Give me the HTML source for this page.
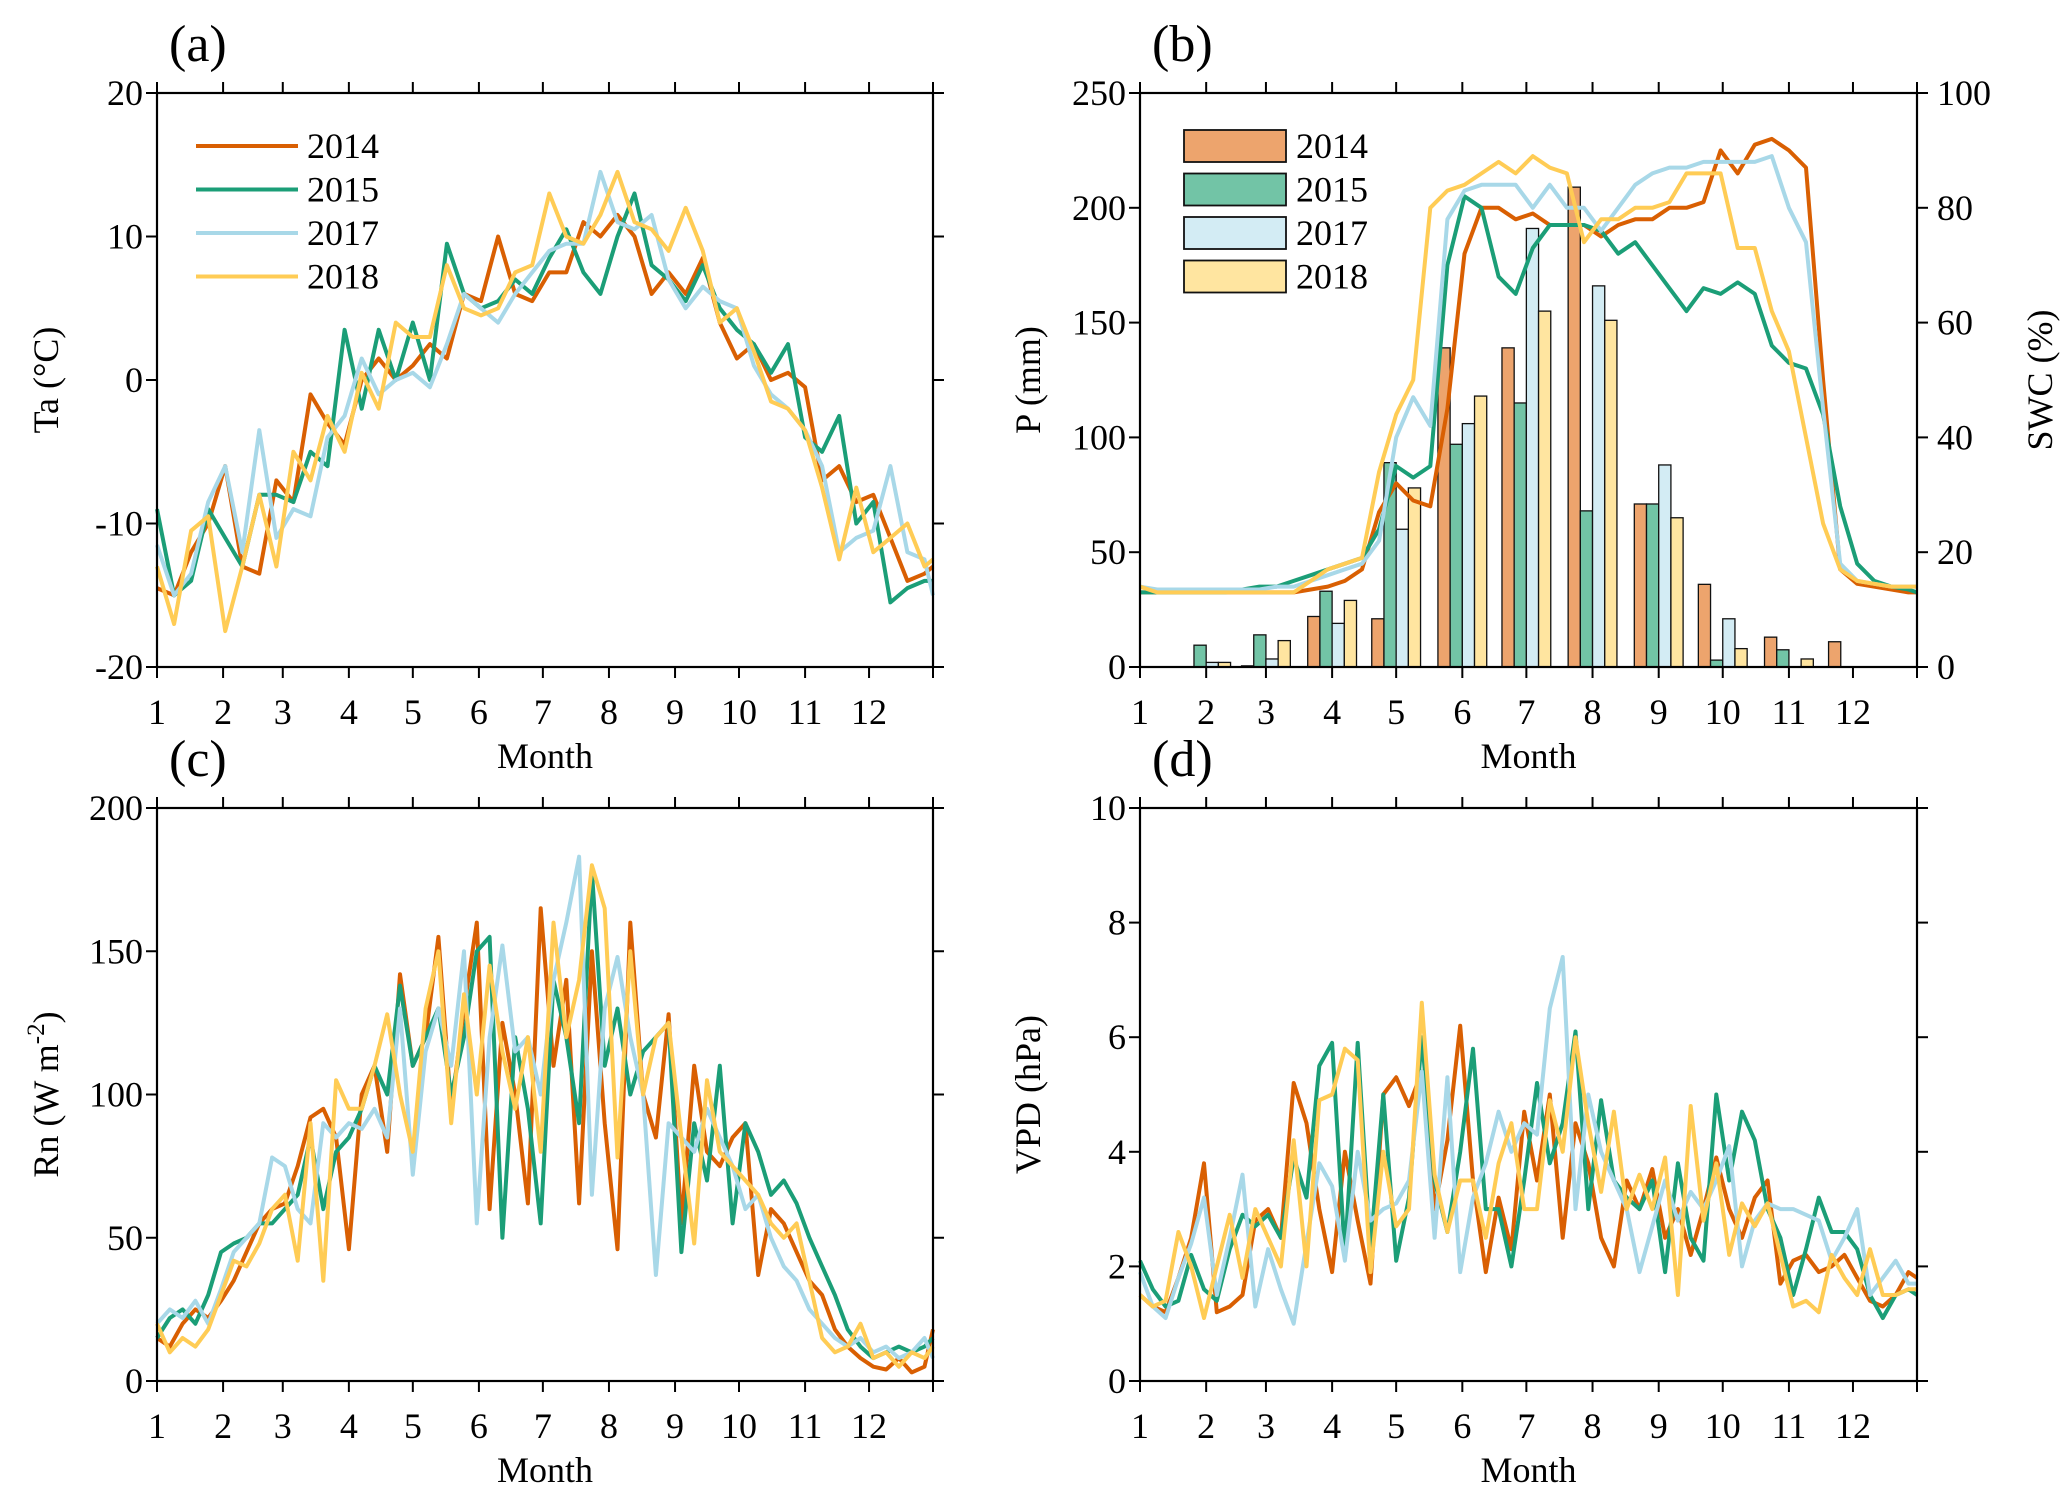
<!DOCTYPE html>
<html><head><meta charset="utf-8">
<style>
html,body{margin:0;padding:0;background:#fff;}
svg{display:block;font-family:"Liberation Serif","Times New Roman",serif;}
</style></head>
<body>
<svg id="fig" width="2067" height="1500" viewBox="0 0 2067 1500" xmlns="http://www.w3.org/2000/svg"></svg>
<script>
// ---- shared data ----
const years = ["2014","2015","2017","2018"];
const lineColors = ["#d95f02","#1b9e77","#a8d8e8","#ffcc55"];
const barColors = ["#eda46d","#72c4a6","#d3ecf4","#ffe5a0"];
const monthTickDays = [1,32,60,91,121,152,182,213,244,274,305,335];
const monthTickLabels = ["1","2","3","4","5","6","7","8","9","10","11","12"];

// panel (a) Ta, days 1,9,...,361,365
const taDays = [1,9,17,25,33,41,49,57,65,73,81,89,97,105,113,121,129,137,145,153,161,169,177,185,193,201,209,217,225,233,241,249,257,265,273,281,289,297,305,313,321,329,337,345,353,361,365];
const ta2014 = [-14.5,-15,-12,-10,-6,-13,-13.5,-7,-8.5,-1,-3,-4.5,0,1.5,0,1,2.5,1.5,6,5.5,10,6,5.5,7.5,7.5,11,10,11.5,10,6,7.5,6,8.5,4,1.5,2.5,0,0.5,-0.5,-7,-6,-8.5,-8,-11,-14,-13.5,-13];
const ta2015 = [-9,-15,-14,-9,-11,-13,-8,-8,-8.5,-5,-6,3.5,-2,3.5,0,4,0,9.5,6,5,5.5,7,6,8.5,10.5,7.5,6,10,13,8,7,5.5,8,5,3.5,2.5,0.5,2.5,-4,-5,-2.5,-10,-8.5,-15.5,-14.5,-14,-14];
const ta2017 = [-11.5,-15,-13.5,-8.5,-6,-12,-3.5,-11,-9,-9.5,-4,-2.5,1.5,-1,0,0.5,-0.5,2.5,6,5,4,6,7.5,9,9.5,9.5,14.5,11,10.5,11.5,7,5,6.5,5.5,5,1,-1,-2,-3.5,-6,-12,-11,-10.5,-6,-12,-12.5,-15];
const ta2018 = [-13,-17,-10.5,-9.5,-17.5,-13,-8,-13,-5,-7,-2.5,-5,0.5,-2,4,3,3,8,5,4.5,5,7.5,8,13,10,9.5,11.5,14.5,11,10.5,9,12,9,4,5,2,-1.5,-2,-3.5,-7.5,-12.5,-7.5,-12,-11,-10,-13,-12.5];
const taTicks = [-20,-10,0,10,20];

// panel (b) precipitation bars (per month) + SWC lines
const pMonths = [1,2,3,4,5,6,7,8,9,10,11,12];
const p2014 = [0,0,0.5,22,21,139,139,209,71,36,13,11];
const p2015 = [0,9.5,14,33,89,97,115,68,71,3,7.5,0];
const p2017 = [0,2,3.5,19,60,106,191,166,88,21,0,0];
const p2018 = [0,2,11.5,29,78,118,155,151,65,8,3.5,0];
const pTicks = [0,50,100,150,200,250];
const swcTicks = [0,20,40,60,80,100];
const swcDays = taDays;
const swc2014 = [13,13,13,13,13,13,13,13,13,13,13.5,14,15,17,27,32,29,28,45,72,80,80,78,79,77,77,77,75,77,78,78,80,80,81,90,86,91,92,90,87,50,17,14.5,14,13.5,13,13];
const swc2015 = [13,13,13,13,13,13,13.5,14,14,15,16,17,18,19,24,35,33,35,70,82,80,68,65,73,77,77,77,76,72,74,70,66,62,66,65,67,65,56,53,52,44,28,18,15,14,13.5,13];
const swc2017 = [14,13.5,13.5,13.5,13.5,13.5,13.5,13.5,14,14,15,16,17,18,22,40,47,42,78,83,84,84,84,80,84,80,80,76,80,84,86,87,87,88,88,88,88,89,80,74,45,18,15,14.5,14,14,14];
const swc2018 = [14,13,13,13,13,13,13,13,13,13,15,17,18,19,34,44,50,80,83,84,86,88,86,89,87,86,74,78,78,80,80,81,86,86,86,73,73,62,55,40,25,17,15,14.5,14,14,14];

// panels (c),(d): days 1,7,...,361,365
const dDays = [1,7,13,19,25,31,37,43,49,55,61,67,73,79,85,91,97,103,109,115,121,127,133,139,145,151,157,163,169,175,181,187,193,199,205,211,217,223,229,235,241,247,253,259,265,271,277,283,289,295,301,307,313,319,325,331,337,343,349,355,361,365];
const rn2014 = [15,12,20,25,22,28,35,45,55,60,62,75,92,95,85,46,100,110,80,142,110,120,155,95,130,160,60,125,100,62,165,110,140,62,150,90,46,160,100,85,128,55,110,80,75,85,90,37,60,55,45,35,30,18,12,8,5,4,8,3,5,18];
const rn2015 = [15,22,25,20,30,45,48,50,55,55,60,65,85,60,80,85,95,110,100,138,110,120,130,100,120,150,155,50,120,95,55,140,120,90,178,110,130,100,115,120,125,45,90,70,110,55,90,80,65,70,62,50,40,30,18,12,8,10,12,10,12,15];
const rn2017 = [20,25,22,28,20,32,45,50,55,78,75,60,55,90,85,90,88,95,85,130,72,115,130,110,150,55,120,152,115,120,100,140,160,183,65,130,148,120,100,37,90,85,80,95,85,75,60,65,50,40,35,25,20,15,12,15,10,12,8,10,15,8];
const rn2018 = [20,10,15,12,18,30,42,40,48,60,65,42,90,35,105,95,95,110,128,100,80,130,150,90,135,100,145,115,95,120,80,160,120,140,180,165,78,150,100,120,125,85,48,105,80,75,70,65,55,50,55,35,15,10,12,20,8,10,5,10,8,12];
const rnTicks = [0,50,100,150,200];
const vpd2014 = [1.5,1.3,1.2,1.8,2.5,3.8,1.2,1.3,1.5,2.8,3.0,2.5,5.2,4.5,3.0,1.9,4.0,2.8,1.7,5.0,5.3,4.8,5.4,3.0,4.2,6.2,3.5,1.9,3.2,2.3,4.7,3.5,5.0,2.5,4.5,3.8,2.5,2.0,3.5,3.0,3.7,2.5,3.0,2.2,3.0,3.9,3.0,2.5,3.2,3.5,1.7,2.1,2.2,1.9,2.0,2.2,1.8,1.4,1.3,1.5,1.9,1.8];
const vpd2015 = [2.1,1.6,1.3,1.4,2.2,1.6,1.4,2.3,2.9,2.7,2.9,2.5,3.9,3.2,5.5,5.9,2.2,5.9,2.3,5.0,2.1,3.2,6.0,3.5,2.6,4.0,5.8,3.0,3.0,2.0,3.5,5.2,3.8,4.5,6.1,3.0,4.9,3.5,3.2,3.0,3.5,1.9,3.8,2.5,2.1,5.0,3.5,4.7,4.2,3.0,2.5,1.5,2.3,3.2,2.6,2.6,2.3,1.5,1.1,1.5,1.6,1.5];
const vpd2017 = [1.9,1.3,1.1,1.8,2.4,3.2,1.5,2.5,3.6,1.3,2.3,1.6,1.0,2.4,3.8,3.4,2.1,4.0,2.8,3.0,3.1,3.5,5.4,2.5,5.3,1.9,3.2,3.8,4.7,4.0,4.5,4.3,6.5,7.4,3.0,5.0,4.0,3.5,3.0,1.9,2.7,3.5,2.8,3.3,3.0,3.5,4.1,2.0,2.8,3.1,3.0,3.0,2.9,2.8,2.1,2.5,3.0,1.5,1.8,2.1,1.7,1.7];
const vpd2018 = [1.5,1.3,1.4,2.6,2.0,1.1,2.0,2.9,1.8,3.0,2.5,2.0,4.2,2.0,4.9,5.0,5.8,5.6,1.9,4.0,2.7,3.0,6.6,3.6,2.6,3.5,3.5,2.5,3.8,4.5,3.0,3.0,4.9,4.0,6.0,4.5,3.3,4.7,3.0,3.6,3.0,3.9,1.5,4.8,2.8,3.8,2.2,3.1,2.7,3.1,2.2,1.3,1.4,1.2,2.2,1.8,1.5,2.3,1.5,1.5,1.6,1.6];
const vpdTicks = [0,2,4,6,8,10];

// ---- drawing ----
const NS = "http://www.w3.org/2000/svg";
const svg = document.getElementById("fig");
function mk(tag, attrs, parent){
  const e = document.createElementNS(NS, tag);
  for (const k in attrs) e.setAttribute(k, attrs[k]);
  (parent||svg).appendChild(e);
  return e;
}
const FS = 36;

function panel(id, box, yMin, yMax, yTicks, yTitle, label, opts){
  const g = mk("g", {});
  
  
  const xs = d => box.x0 + (d-1)/(365-1)*(box.x1-box.x0);
  const ys = v => box.y1 - (v-yMin)/(yMax-yMin)*(box.y1-box.y0);
  const plot = mk("g", {}, g);
  
  
  const tl = 11;
  const xt = mk("g", {}, g);
  
  
  const tickDays = monthTickDays.concat([365]);
  tickDays.forEach(d => {
    const x = xs(d);
    mk("line", {x1:x, x2:x, y1:box.y1, y2:box.y1+tl, stroke:"#000","stroke-width":2}, xt);
    mk("line", {x1:x, x2:x, y1:box.y0, y2:box.y0-tl, stroke:"#000","stroke-width":2}, xt);
  });
  monthTickDays.forEach((d,i) => {
    const t = mk("text", {x:xs(d), y:box.y1+57, "font-size":FS, "text-anchor":"middle"}, xt);
    
    
    t.textContent = monthTickLabels[i];
  });
  const xtitle = mk("text", {x:(box.x0+box.x1)/2, y:box.y1+101, "font-size":FS, "text-anchor":"middle"}, g);
  
  
  xtitle.textContent = "Month";
  const yt = mk("g", {}, g);
  
  
  yTicks.forEach(v => {
    const y = ys(v);
    mk("line", {x1:box.x0-tl, x2:box.x0, y1:y, y2:y, stroke:"#000","stroke-width":2}, yt);
    mk("line", {x1:box.x1, x2:box.x1+tl, y1:y, y2:y, stroke:"#000","stroke-width":2}, yt);
    const t = mk("text", {x:box.x0-14, y:y+12, "font-size":FS, "text-anchor":"end"}, yt);
    
    
    t.textContent = v;
  });
  const yc = (box.y0+box.y1)/2;
  const ytitle = mk("text", {x:0, y:0, "font-size":FS, "text-anchor":"middle", transform:`translate(${opts.ytx},${yc}) rotate(-90)`}, g);
  
  
  ytitle.innerHTML = yTitle;
  const lab = mk("text", {x:box.x0+12, y:box.y0-32, "font-size":52}, g);
  
  
  lab.textContent = label;
  return {g, plot, xs, ys, box};
}

function drawLines(P, days, series, ys){
  series.forEach((vals, k) => {
    const pts = vals.map((v,i) => P.xs(days[i]).toFixed(1)+","+ys(v).toFixed(1)).join(" ");
    const pl = mk("polyline", {points:pts, fill:"none", stroke:lineColors[k], "stroke-width":4, "stroke-linejoin":"round"}, P.plot);
    
    
  });
}
function frame(P){
  const b = P.box;
  const r = mk("rect", {x:b.x0, y:b.y0, width:b.x1-b.x0, height:b.y1-b.y0, fill:"none", stroke:"#000", "stroke-width":2.2}, P.g);
  
  
}

// (a)
const A = panel("panel-a-ta", {x0:157,x1:933,y0:93,y1:667}, -20, 20, taTicks, "Ta (°C)", "(a)", {ytx:58});
drawLines(A, taDays, [ta2014,ta2015,ta2017,ta2018], A.ys);
frame(A);
const legA = mk("g", {});


years.forEach((y,k) => {
  const cy = 146 + k*43.5;
  const ln = mk("line", {x1:196, x2:298, y1:cy, y2:cy, stroke:lineColors[k], "stroke-width":4}, legA);
  
  
  const t = mk("text", {x:307, y:cy+12, "font-size":FS}, legA);
  
  
  t.textContent = y;
});

// (b)
const B = panel("panel-b-precip-swc", {x0:1140,x1:1917,y0:93,y1:667}, 0, 250, pTicks, "P (mm)", "(b)", {ytx:1040});
const bw = 12.2;
[p2014,p2015,p2017,p2018].forEach((vals,k) => {
  vals.forEach((v,i) => {
    if (v <= 0) return;
    const cx = B.xs(monthTickDays[pMonths[i]-1]);
    const x = cx + (k-2)*bw;
    const r = mk("rect", {x:x, y:B.ys(v), width:bw, height:B.ys(0)-B.ys(v), fill:barColors[k], stroke:"#111", "stroke-width":1.3}, B.plot);
    
    
  });
});
const ysSwc = v => B.box.y1 - v/100*(B.box.y1-B.box.y0);
drawLines(B, swcDays, [swc2014,swc2015,swc2017,swc2018], ysSwc);
swcTicks.forEach(v => {
  const t = mk("text", {x:B.box.x1+20, y:ysSwc(v)+12, "font-size":FS}, B.g);
  
  
  t.textContent = v;
});
const swcT = mk("text", {x:0, y:0, "font-size":FS, "text-anchor":"middle", transform:`translate(2052,${(93+667)/2}) rotate(-90)`}, B.g);


swcT.textContent = "SWC (%)";
frame(B);
const legB = mk("g", {});


years.forEach((y,k) => {
  const cy = 146 + k*43.5;
  const r = mk("rect", {x:1184, y:cy-16, width:102, height:32, fill:barColors[k], stroke:"#111", "stroke-width":1.8}, legB);
  
  
  const t = mk("text", {x:1296, y:cy+12, "font-size":FS}, legB);
  
  
  t.textContent = y;
});

// (c)
const C = panel("panel-c-rn", {x0:157,x1:933,y0:808,y1:1381}, 0, 200, rnTicks, 'Rn (W m<tspan dy="-14" font-size="25">-2</tspan><tspan dy="14">)</tspan>', "(c)", {ytx:58});
drawLines(C, dDays, [rn2014,rn2015,rn2017,rn2018], C.ys);
frame(C);

// (d)
const D = panel("panel-d-vpd", {x0:1140,x1:1917,y0:808,y1:1381}, 0, 10, vpdTicks, "VPD (hPa)", "(d)", {ytx:1040});
drawLines(D, dDays, [vpd2014,vpd2015,vpd2017,vpd2018], D.ys);
frame(D);
</script>
</body></html>
